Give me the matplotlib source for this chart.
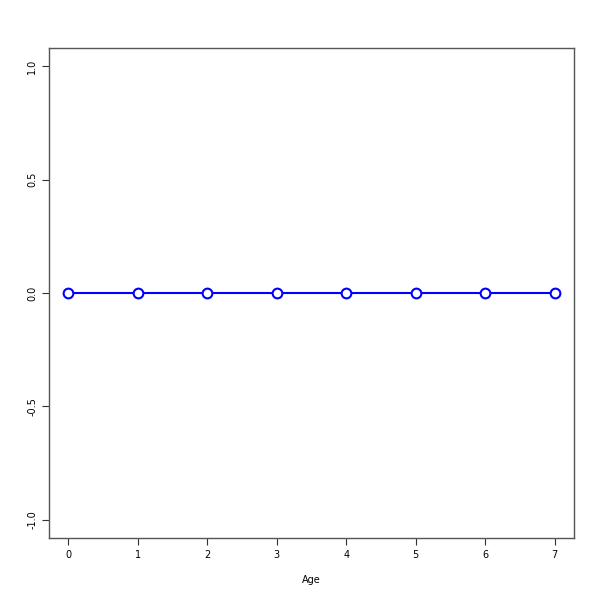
import matplotlib
matplotlib.use('Agg')
import matplotlib.pyplot as plt

age = [0, 1, 2, 3, 4, 5, 6, 7]
value = [0, 0, 0, 0, 0, 0, 0, 0]
yticks = [-1.0, -0.5, 0.0, 0.5, 1.0]

fig = plt.figure(figsize=(6, 6), dpi=100)
ax = fig.add_axes([0.0817, 0.1033, 0.875, 0.8167])

ax.plot(age, value, color='blue', lw=1.5, marker='o', ms=7,
        markerfacecolor='white', markeredgecolor='blue', markeredgewidth=1.5)

ax.set_xlim(-0.28, 7.28)
ax.set_ylim(-1.08, 1.08)
ax.set_xticks(age)
ax.set_yticks(yticks)
ax.set_yticklabels(['%.1f' % t for t in yticks], rotation=90, va='center')
ax.tick_params(labelsize=7, length=5, color='#333333')
ax.set_xlabel('Age', fontsize=7, labelpad=11)

for s in ax.spines.values():
    s.set_color('#555555')
    s.set_linewidth(1)

fig.savefig('out.png', dpi=100)
